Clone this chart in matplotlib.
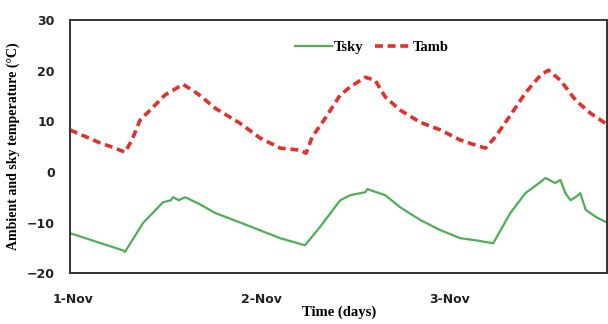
import matplotlib
matplotlib.use("Agg")
import matplotlib.pyplot as plt

# time in hours from 1-Nov 00:00
tamb_hours = [-0.38, 3.19, 5.36, 6.64, 7.53, 8.55, 10.09, 11.74, 14.04, 15.96,
              18.13, 21.32, 23.87, 26.43, 28.98, 29.74, 30.51, 32.17, 34.09, 35.36,
              37.28, 38.55, 39.83, 41.74, 44.30, 46.85, 49.40, 51.32, 52.6, 53.87,
              55.79, 57.70, 59.62, 60.64, 62.17, 64.09, 66.0, 68.2]
tamb_vals = [8.3, 5.9, 4.7, 3.9, 6.3, 10.2, 12.6, 15.2, 17.3, 15.4,
             12.6, 9.6, 6.7, 4.7, 4.3, 3.7, 6.9, 10.6, 15.2, 16.8,
             18.7, 18.1, 14.8, 12.2, 9.8, 8.3, 6.3, 5.3, 4.7, 6.9,
             11.2, 15.6, 19.1, 20.1, 18.1, 14.2, 11.6, 9.3]

tsky_hours = [-0.38, 3.19, 6.38, 6.64, 8.94, 11.49, 12.5, 12.77, 13.5, 14.3, 15.96,
              18.13, 22.0, 26.43, 29.6, 31.5, 34.09, 35.36, 37.3, 37.54, 39.83,
              41.74, 44.30, 46.85, 49.40, 51.32, 53.6, 55.79, 57.70, 59.62, 60.26,
              61.5, 62.17, 62.8, 63.45, 64.09, 64.7, 65.4, 66.7, 68.2]
tsky_vals = [-12.1, -13.9, -15.5, -15.8, -10.1, -6.0, -5.6, -5.0, -5.6, -5.0, -6.2,
             -8.1, -10.4, -13.1, -14.5, -10.9, -5.6, -4.6, -4.0, -3.4, -4.6,
             -7.0, -9.5, -11.5, -13.1, -13.5, -14.1, -8.1, -4.2, -2.0, -1.2,
             -2.2, -1.6, -4.2, -5.6, -5.0, -4.2, -7.5, -8.9, -10.1]

day_ticks = [0, 1, 2]
day_labels = ["1-Nov", "2-Nov", "3-Nov"]
y_ticks = [-20, -10, 0, 10, 20, 30]

fig = plt.figure(figsize=(6.08, 3.24), dpi=100)
ax = fig.add_axes([0.115, 0.157, 0.884, 0.781])

ax.plot([h / 24 for h in tsky_hours], tsky_vals, color="#4fae55", lw=1.6, label="Tsky")
ax.plot([h / 24 for h in tamb_hours], tamb_vals, color="#e0312b", lw=2.6,
        linestyle=(0, (2.2, 1.3)), label="Tamb")

ax.set_xlim(-0.016, 2.84)
ax.set_ylim(-20, 30)
ax.set_yticks(y_ticks)
ax.set_xticks(day_ticks)
ax.set_xticklabels(day_labels)
ax.tick_params(axis="both", length=0, labelsize=9, colors="#222222")
ax.tick_params(axis="x", pad=14)
ax.tick_params(axis="y", pad=11)
for lab in ax.get_xticklabels() + ax.get_yticklabels():
    lab.set_fontweight("bold")

for sp in ax.spines.values():
    sp.set_color("#333333")
    sp.set_linewidth(1.4)

ax.set_ylabel("Ambient and sky temperature (°C)", family="Liberation Serif",
              fontweight="bold", fontsize=10)
ax.yaxis.set_label_coords(-0.093, 0.5)
ax.set_xlabel("Time (days)", family="Liberation Serif", fontweight="bold",
              fontsize=10.5)
ax.xaxis.set_label_coords(0.5, -0.128)

leg = ax.legend(loc="center", bbox_to_anchor=(0.562, 0.893), ncol=2, frameon=False,
                prop={"family": "Liberation Serif", "weight": "bold", "size": 10.5},
                handlelength=2.5, handletextpad=0.1, columnspacing=0.8)

fig.savefig("out.png", dpi=100)
